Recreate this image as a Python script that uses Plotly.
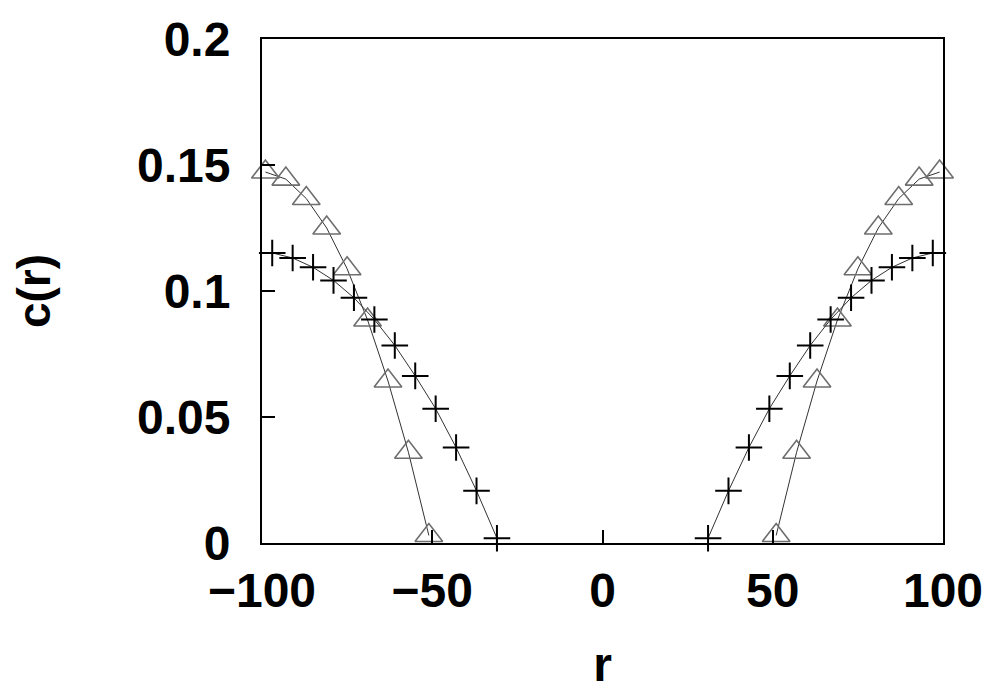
import plotly.graph_objects as go

# Cross series (black "+")
r_cross_left = [-97, -91, -85, -79, -73, -67, -61, -55, -49, -43, -37, -31]
c_cross_left = [0.1151, 0.1131, 0.1094, 0.1042, 0.0973, 0.0887, 0.0784, 0.0663, 0.0533, 0.0379, 0.0207, 0.0019]
r_cross_right = [31, 37, 43, 49, 55, 61, 67, 73, 79, 85, 91, 97]
c_cross_right = [0.0019, 0.0207, 0.0379, 0.0533, 0.0663, 0.0784, 0.0887, 0.0973, 0.1042, 0.1094, 0.1131, 0.1151]

# Triangle series (grey open triangles)
r_tri_left = [-99, -93, -87, -81, -75, -69, -63, -57, -51]
c_tri_left = [0.1472, 0.1444, 0.1367, 0.1250, 0.1088, 0.0885, 0.0643, 0.0360, 0.0030]
r_tri_right = [51, 57, 63, 69, 75, 81, 87, 93, 99]
c_tri_right = [0.0030, 0.0360, 0.0643, 0.0885, 0.1088, 0.1250, 0.1367, 0.1444, 0.1472]

x_ticks = [-100, -50, 0, 50, 100]
x_tick_labels = ["\u2212100", "\u221250", "0", "50", "100"]
y_ticks = [0, 0.05, 0.1, 0.15, 0.2]
y_tick_labels = ["0", "0.05", "0.1", "0.15", "0.2"]

FONT = "Liberation Sans, Arial, sans-serif"

fig = go.Figure()

def add(xs, ys, symbol, mcolor, size, mwidth):
    fig.add_trace(go.Scatter(
        x=xs, y=ys, mode="lines+markers",
        line=dict(color="#333333", width=1),
        marker=dict(symbol=symbol, size=size, color=mcolor,
                    line=dict(color=mcolor, width=mwidth)),
        cliponaxis=False, showlegend=False,
    ))

add(r_tri_left, c_tri_left, "triangle-up-open", "#6e6e6e", 24, 1.6)
add(r_tri_right, c_tri_right, "triangle-up-open", "#6e6e6e", 24, 1.6)
add(r_cross_left, c_cross_left, "cross-thin-open", "#000000", 19, 2)
add(r_cross_right, c_cross_right, "cross-thin-open", "#000000", 19, 2)

fig.update_layout(
    width=992, height=683,
    margin=dict(l=254, r=57, t=31, b=148),
    paper_bgcolor="white", plot_bgcolor="white",
    font=dict(family=FONT, color="black"),
)

fig.update_xaxes(
    range=[-100, 100], tickvals=x_ticks, ticktext=x_tick_labels,
    ticks="inside", ticklen=13, tickwidth=1.5, tickcolor="black",
    showline=True, linecolor="black", linewidth=2, mirror=True,
    showgrid=False, zeroline=False, automargin=False,
    tickfont=dict(size=48, family=FONT, weight="bold"),
    ticklabelstandoff=4,
    title=dict(text="<b>r</b>", font=dict(size=48, family=FONT), standoff=32),
)
fig.update_yaxes(
    range=[0, 0.2], tickvals=y_ticks, ticktext=y_tick_labels,
    ticks="inside", ticklen=13, tickwidth=1.5, tickcolor="black",
    showline=True, linecolor="black", linewidth=2, mirror=True,
    showgrid=False, zeroline=False, automargin=False,
    tickfont=dict(size=48, family=FONT, weight="bold"),
    ticklabelstandoff=20,
    title=dict(text="<b>c(r)</b>", font=dict(size=46, family=FONT), standoff=81),
)

fig.write_html("out.html")
